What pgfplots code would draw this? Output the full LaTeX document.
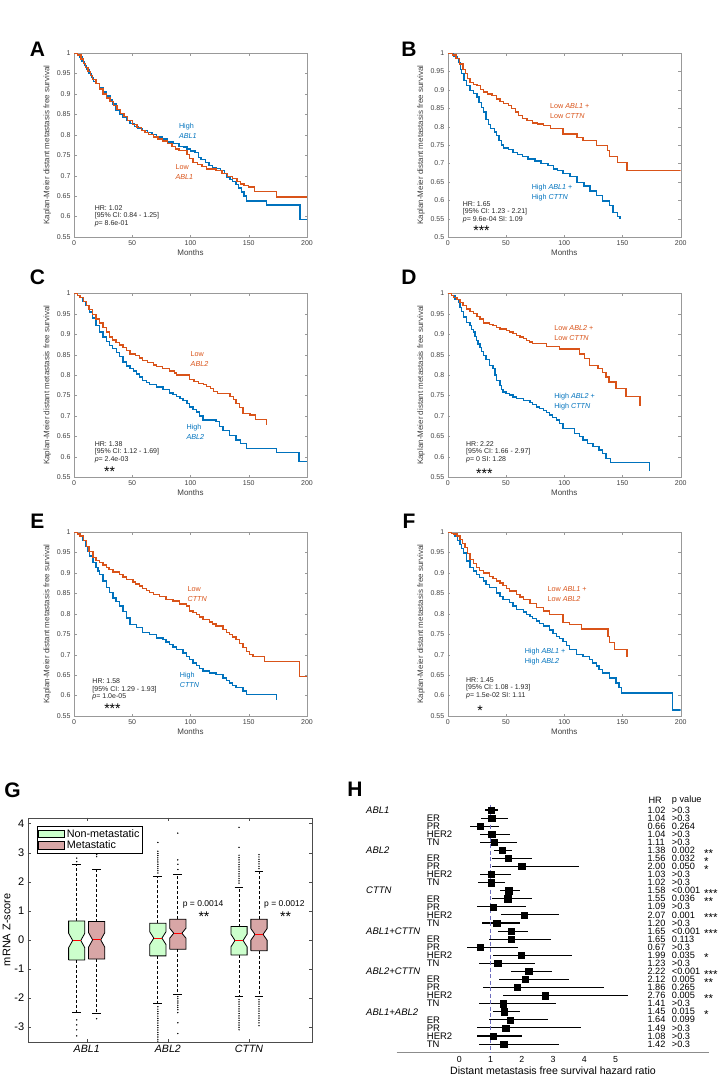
\documentclass[border=0pt]{standalone}
\usepackage{fontspec}
\setmainfont{Liberation Sans}
\usepackage{pgfplots}
\usepackage{pgfplotstable}
\pgfplotsset{compat=1.18}
\definecolor{mblue}{RGB}{0,114,189}
\definecolor{mred}{RGB}{217,83,25}
\definecolor{boxgreen}{RGB}{204,255,204}
\definecolor{boxred}{RGB}{216,166,166}
\definecolor{refline}{RGB}{110,110,190}

\pgfplotsset{
  /pgf/number format/assume math mode=true,
  km/.style={scale only axis, width=233pt, height=184pt, anchor=south west,
    xmin=0, xmax=200, ymin=0.55, ymax=1,
    xtick={0,50,100,150,200}, ytick={0.5,0.55,0.6,0.65,0.7,0.75,0.8,0.85,0.9,0.95,1},
    tick align=inside, major tick length=2.5pt,
    axis line style={black!40}, tick style={black!40},
    ticklabel style={font=\fontsize{7}{8}\selectfont, text=black!75},
    yticklabel style={/pgf/number format/.cd, fixed, precision=2},
    xlabel={Months}, ylabel={Kaplan-Meier distant metastasis free survival},
    label style={font=\fontsize{8}{9}\selectfont, text=black!75},
    xlabel style={yshift=3pt}, ylabel style={yshift=-1pt}},
  hi/.style={mblue, line width=1.35pt, const plot, mark=none},
  lo/.style={mred, line width=1.35pt, const plot, mark=none},
  wh/.style={black, line width=0.9pt, dash pattern=on 3pt off 2pt, forget plot},
  cap/.style={black, line width=0.9pt, forget plot},
  med/.style={red, line width=1.2pt, forget plot},
  out/.style={only marks, mark=*, mark size=0.45pt, black, forget plot},
}
\tikzset{
  lab/.style={anchor=west, align=left, font=\fontsize{7.2}{10}\selectfont, inner sep=0pt},
  stat/.style={anchor=north west, align=left, font=\fontsize{7}{7.5}\selectfont, text=black!85, inner sep=0pt},
  star/.style={font=\fontsize{14}{14}\selectfont, anchor=base, inner sep=0pt, yshift=-8pt},
  letter/.style={font=\fontsize{21}{21}\selectfont\bfseries},
  frow/.style={anchor=west, inner sep=0pt, font=\fontsize{9.2}{9.2}\selectfont},
}

% forest plot: row, hazard ratio, 95% CI
\pgfplotstableread{
row hr lo hi
1 1.02 0.84 1.25
2 1.04 0.71 1.56
3 0.66 0.35 1.27
4 1.04 0.67 1.62
5 1.11 0.67 1.86
6 1.38 1.12 1.69
7 1.56 1.06 2.34
8 2.00 1.06 3.82
9 1.03 0.67 1.65
10 1.02 0.60 1.45
11 1.58 1.29 1.93
12 1.55 1.06 2.34
13 1.09 0.56 2.14
14 2.07 1.35 3.20
15 1.20 0.74 1.96
16 1.65 1.23 2.21
17 1.65 0.96 2.94
18 0.67 0.24 1.88
19 1.99 1.09 3.61
20 1.23 0.64 2.43
21 2.22 1.66 2.97
22 2.12 1.27 3.52
23 1.86 0.76 4.62
24 2.76 1.41 5.41
25 1.41 0.64 3.11
26 1.45 1.08 1.93
27 1.64 0.96 2.85
28 1.49 0.56 3.90
29 1.08 0.58 2.02
30 1.42 0.64 3.20
}\forest

\begin{document}
\begin{tikzpicture}
\useasboundingbox (0,0) rectangle (722pt,-1077pt);

% ---------------- A
\begin{axis}[km, at={(74pt,-237pt)}]
\addplot[hi] coordinates {(0,1) (3,0.995) (5,0.99) (7,0.98) (9,0.97) (10.6,0.96) (13,0.95) (15,0.94) (17,0.93) (19,0.925) (22,0.915) (25,0.905) (28,0.895) (31,0.885) (33,0.875) (36,0.86) (39,0.85) (42,0.842) (45,0.835) (48,0.827) (52,0.82) (55,0.815) (59,0.81) (63,0.805) (67,0.8) (71,0.795) (76,0.79) (80,0.782) (85,0.778) (90,0.772) (94,0.77) (97,0.765) (100,0.76) (104,0.756) (107,0.745) (109,0.74) (113,0.732) (116,0.725) (119,0.72) (122,0.717) (126,0.712) (129,0.705) (131,0.697) (134,0.69) (136,0.685) (139,0.678) (141,0.67) (144,0.66) (146,0.65) (148,0.638) (165,0.628) (194,0.593) (200,0.593)};
\addplot[lo] coordinates {(0,1) (3,0.995) (6,0.985) (8,0.975) (10,0.965) (12,0.955) (14,0.945) (16,0.935) (19,0.925) (22,0.912) (25,0.9) (28,0.89) (31,0.882) (34,0.872) (37,0.862) (40,0.852) (43,0.845) (46,0.835) (50,0.825) (54,0.818) (58,0.81) (61,0.805) (64,0.8) (68,0.795) (72,0.79) (76,0.785) (80,0.778) (84,0.772) (87,0.765) (90,0.762) (97,0.752) (99,0.742) (102,0.732) (106,0.728) (110,0.722) (114,0.716) (122,0.713) (127,0.705) (132,0.698) (136,0.693) (140,0.686) (143,0.68) (146,0.676) (150,0.672) (155,0.662) (174,0.648) (200,0.648)};
\node[lab, text=mblue] at (axis cs:90,0.81) {High\\\textit{ABL1}};
\node[lab, text=mred] at (axis cs:87,0.709) {Low\\\textit{ABL1}};
\node[stat] at (axis cs:17.7,0.628) {HR: 1.02\\{}[95\% CI: 0.84 - 1.25]\\\textit{p}= 8.6e-01};
\end{axis}

% ---------------- B
\begin{axis}[km, ymin=0.5, at={(447.7pt,-237pt)}]
\addplot[hi] coordinates {(0,1) (5,0.99) (8,0.985) (9,0.975) (11,0.955) (12,0.944) (14,0.925) (16,0.912) (19,0.898) (22,0.89) (25,0.88) (27,0.865) (29,0.852) (31,0.84) (33,0.82) (35,0.805) (37,0.795) (40,0.785) (42,0.775) (44,0.762) (46,0.75) (48,0.742) (52,0.737) (56,0.73) (60,0.725) (64,0.718) (69,0.712) (75,0.707) (80,0.7) (86,0.694) (91,0.685) (94,0.68) (99,0.673) (105,0.664) (111,0.648) (117,0.639) (122,0.625) (128,0.612) (133,0.598) (139,0.585) (142,0.566) (146,0.555) (148,0.555) (148,0.548)};
\addplot[lo] coordinates {(0,1) (4,0.995) (7,0.985) (10,0.97) (13,0.955) (15,0.944) (17,0.93) (19,0.92) (22,0.915) (25,0.912) (28,0.9) (31,0.894) (34,0.889) (38,0.885) (42,0.875) (45,0.868) (48,0.862) (52,0.857) (55,0.85) (58,0.84) (61,0.83) (64,0.822) (68,0.816) (73,0.81) (77,0.807) (82,0.803) (88,0.794) (99,0.78) (111,0.771) (116,0.762) (128,0.748) (137,0.735) (139,0.718) (146,0.703) (154,0.68) (200,0.68)};
\node[lab, text=mred] at (axis cs:87.8,0.841) {Low \textit{ABL1} +\\Low \textit{CTTN}};
\node[lab, text=mblue] at (axis cs:72,0.621) {High \textit{ABL1} +\\High \textit{CTTN}};
\node[stat] at (axis cs:12.9,0.598) {HR: 1.65\\{}[95\% CI: 1.23 - 2.21]\\\textit{p}= 9.6e-04 SI: 1.09};
\node[star] at (axis cs:29,0.527) {***};
\end{axis}

% ---------------- C
\begin{axis}[km, at={(74pt,-477.3pt)}]
\addplot[hi] coordinates {(0,1) (3,0.995) (5,0.99) (7.7,0.98) (10,0.97) (13.4,0.954) (16,0.94) (19,0.921) (22,0.905) (25,0.893) (28,0.882) (30.6,0.872) (33,0.865) (36.3,0.856) (39,0.845) (42,0.832) (45,0.822) (48,0.816) (51,0.81) (53.5,0.803) (56,0.795) (59,0.787) (62,0.782) (65,0.777) (70.7,0.771) (76.4,0.764) (82,0.756) (85,0.752) (88,0.747) (91,0.742) (93.6,0.738) (97,0.73) (99.3,0.722) (102,0.716) (105,0.71) (108,0.7) (110.7,0.69) (122,0.686) (125,0.675) (128,0.665) (133.6,0.653) (139,0.641) (143,0.632) (148,0.62) (173.7,0.611) (193,0.588) (200,0.588)};
\addplot[lo] coordinates {(0,1) (3,0.995) (5,0.99) (8,0.98) (10.6,0.97) (13,0.96) (16,0.948) (19,0.937) (22,0.927) (25,0.917) (28,0.905) (30.6,0.893) (33,0.886) (36,0.88) (39,0.874) (42,0.868) (45,0.86) (48,0.852) (53,0.848) (56,0.842) (59,0.836) (63,0.83) (68,0.825) (71,0.821) (76,0.816) (82,0.81) (86,0.805) (88,0.8) (99,0.79) (103,0.785) (107,0.78) (111,0.777) (114,0.772) (117,0.767) (120,0.76) (123,0.755) (134,0.747) (137,0.74) (139,0.73) (142,0.72) (145,0.706) (151,0.702) (156,0.691) (165,0.691) (165,0.678)};
\node[lab, text=mred] at (axis cs:100,0.84) {Low\\\textit{ABL2}};
\node[lab, text=mblue] at (axis cs:96.4,0.661) {High\\\textit{ABL2}};
\node[stat] at (axis cs:17.7,0.639) {HR: 1.38\\{}[95\% CI: 1.12 - 1.69]\\\textit{p}= 2.4e-03};
\node[star] at (axis cs:30.6,0.572) {**};
\end{axis}

% ---------------- D
\begin{axis}[km, at={(447.7pt,-477.3pt)}]
\addplot[hi] coordinates {(0,1) (3,0.995) (6.3,0.985) (9,0.978) (10.5,0.966) (12,0.955) (13.4,0.942) (16,0.929) (19,0.921) (20.5,0.912) (22,0.905) (23.5,0.895) (24.8,0.885) (26,0.876) (27.7,0.868) (29,0.858) (30.5,0.848) (33,0.838) (36,0.824) (39,0.816) (40.5,0.8) (42,0.787) (44.8,0.775) (46,0.765) (47.6,0.759) (50,0.755) (53.3,0.751) (56,0.746) (59,0.742) (64.8,0.738) (70.5,0.733) (73,0.728) (76,0.722) (79,0.718) (82,0.714) (85,0.708) (87.6,0.702) (90,0.697) (93.3,0.69) (96,0.682) (99,0.669) (109,0.657) (113,0.65) (116,0.641) (120,0.633) (124.7,0.625) (130,0.617) (133,0.608) (136,0.596) (140,0.586) (173,0.586) (173,0.565)};
\addplot[lo] coordinates {(0,1) (3,0.995) (5,0.99) (8,0.985) (10.5,0.978) (13,0.97) (16,0.962) (19,0.956) (22,0.95) (25,0.944) (27.7,0.937) (30.5,0.927) (36,0.924) (39,0.921) (42,0.917) (44.8,0.913) (50.5,0.909) (53,0.905) (56,0.901) (59,0.897) (62,0.893) (65,0.889) (67.6,0.885) (70,0.881) (73,0.877) (84.7,0.87) (96,0.864) (113,0.852) (117.5,0.84) (121.8,0.824) (129,0.816) (133,0.807) (136,0.795) (138.4,0.783) (144.6,0.767) (153,0.748) (165,0.748) (165,0.725)};
\node[lab, text=mred] at (axis cs:91.3,0.903) {Low \textit{ABL2} +\\Low \textit{CTTN}};
\node[lab, text=mblue] at (axis cs:91.3,0.734) {High \textit{ABL2} +\\High \textit{CTTN}};
\node[stat] at (axis cs:15.7,0.639) {HR: 2.22\\{}[95\% CI: 1.66 - 2.97]\\\textit{p}= 0 SI: 1.28};
\node[star] at (axis cs:31.4,0.566) {***};
\end{axis}

% ---------------- E
\begin{axis}[km, at={(74pt,-716pt)}]
\addplot[hi] coordinates {(0,1) (3,0.995) (5,0.99) (7.7,0.98) (10,0.965) (12,0.952) (13.4,0.941) (16.3,0.925) (19,0.913) (20.5,0.905) (22,0.896) (25,0.88) (27.7,0.864) (30.5,0.852) (33.5,0.839) (36,0.83) (39,0.819) (42,0.805) (45,0.79) (48,0.774) (53.5,0.766) (59,0.755) (65,0.749) (70.7,0.741) (76.4,0.737) (79,0.731) (82,0.725) (85,0.719) (88,0.713) (93.6,0.704) (96.5,0.696) (99.3,0.688) (102,0.68) (105,0.673) (108,0.666) (110.7,0.66) (116.5,0.655) (122,0.651) (128,0.643) (131,0.637) (133.6,0.631) (136,0.625) (139,0.619) (145,0.611) (148,0.603) (173.7,0.603) (173.7,0.59)};
\addplot[lo] coordinates {(0,1) (3,0.995) (5,0.99) (8,0.98) (10.6,0.964) (13,0.952) (16.3,0.937) (19,0.931) (22,0.925) (25,0.919) (27.7,0.913) (30,0.908) (33.5,0.902) (39,0.896) (42,0.89) (45,0.884) (50.6,0.878) (53,0.873) (56,0.868) (59,0.862) (62,0.857) (65,0.852) (68,0.847) (73.5,0.843) (79,0.835) (85,0.831) (90.7,0.824) (96.4,0.819) (99.3,0.807) (102,0.803) (105,0.798) (108,0.792) (110.7,0.786) (116.5,0.78) (119,0.775) (122,0.77) (128,0.762) (131,0.755) (133.6,0.749) (136,0.743) (139,0.737) (142,0.727) (145,0.717) (148,0.708) (150.8,0.7) (153.6,0.695) (163.7,0.684) (193.7,0.646) (200,0.646)};
\node[lab, text=mred] at (axis cs:97.3,0.849) {Low\\\textit{CTTN}};
\node[lab, text=mblue] at (axis cs:90.7,0.639) {High\\\textit{CTTN}};
\node[stat] at (axis cs:15.7,0.641) {HR: 1.58\\{}[95\% CI: 1.29 - 1.93]\\\textit{p}= 1.0e-05};
\node[star] at (axis cs:33,0.575) {***};
\end{axis}

% ---------------- F
\begin{axis}[km, at={(447.7pt,-716pt)}]
\addplot[hi] coordinates {(0,1) (3,0.997) (6.3,0.99) (8.5,0.98) (10.5,0.97) (12,0.96) (13.4,0.949) (16,0.929) (19,0.913) (22,0.905) (24.8,0.896) (27.5,0.888) (30.5,0.88) (33,0.872) (36,0.864) (42,0.851) (45,0.843) (47.6,0.835) (53.3,0.827) (56,0.819) (59,0.811) (64.8,0.804) (67.5,0.799) (70.5,0.794) (73,0.788) (76,0.782) (79,0.776) (82,0.77) (87.6,0.76) (90.5,0.752) (93.3,0.745) (96,0.739) (99,0.733) (102,0.723) (104.7,0.713) (110.4,0.7) (116,0.696) (121.8,0.688) (124.5,0.68) (127.5,0.672) (130,0.664) (133,0.655) (139,0.643) (144.6,0.631) (147,0.62) (149,0.606) (193,0.565) (200,0.565)};
\addplot[lo] coordinates {(0,1) (3,0.997) (5,0.995) (8,0.99) (10.5,0.982) (12.5,0.972) (14.8,0.962) (17,0.948) (19,0.933) (22,0.923) (24.8,0.913) (27.5,0.906) (30.5,0.9) (36,0.892) (39,0.886) (42,0.88) (45,0.875) (47.6,0.869) (50.5,0.862) (53.3,0.856) (59,0.847) (62,0.841) (64.8,0.835) (70.5,0.825) (76,0.815) (82,0.807) (87.6,0.798) (99,0.778) (104.7,0.774) (114.7,0.763) (137.5,0.745) (139,0.729) (143,0.713) (153.8,0.713) (153.8,0.695)};
\node[lab, text=mred] at (axis cs:85.6,0.8475) {Low \textit{ABL1} +\\Low \textit{ABL2}};
\node[lab, text=mblue] at (axis cs:66,0.695) {High \textit{ABL1} +\\High \textit{ABL2}};
\node[stat] at (axis cs:15.7,0.645) {HR: 1.45\\{}[95\% CI: 1.08 - 1.93]\\\textit{p}= 1.5e-02 SI: 1.11};
\node[star] at (axis cs:27.8,0.571) {*};
\end{axis}

% ---------------- G
\begin{axis}[scale only axis, width=284.6pt, height=224pt, anchor=south west,
  at={(27.7pt,-1041.7pt)},
  xmin=0.273, xmax=3.78, ymin=-3.5, ymax=4.2,
  xtick={1,2,3}, xticklabels={\textit{ABL1},\textit{ABL2},\textit{CTTN}},
  ytick={-3,-2,-1,0,1,2,3,4},
  tick align=inside, major tick length=3pt,
  axis line style={black!70}, tick style={black!70},
  yticklabel style={font=\fontsize{11}{12}\selectfont},
  xticklabel style={font=\fontsize{10.6}{12}\selectfont},
  ylabel={mRNA Z-score}, ylabel style={font=\fontsize{11}{12}\selectfont, yshift=-3pt},
  legend style={at={(0.032,0.963)}, anchor=north west, font=\fontsize{10.8}{11}\selectfont,
    draw=black, inner sep=1pt, row sep=-1.5pt},
  legend cell align=left,
  legend image code/.code={\draw[#1] (0pt,-3.8pt) rectangle (26pt,3.8pt);},
  clip=false]
\addlegendimage{fill=boxgreen, draw=black, line width=0.8pt}
\addlegendentry{Non-metastatic}
\addlegendimage{fill=boxred, draw=black, line width=0.8pt}
\addlegendentry{Metastatic}
% ABL1
\addplot[wh] coordinates {(0.877,0.65) (0.877,2.58)};
\addplot[wh] coordinates {(0.877,-0.69) (0.877,-2.50)};
\addplot[cap] coordinates {(0.822,2.58) (0.932,2.58)};
\addplot[cap] coordinates {(0.822,-2.50) (0.932,-2.50)};
\addplot[fill=boxgreen, draw=black, line width=0.8pt, forget plot] coordinates {(0.777,-0.69) (0.977,-0.69) (0.977,-0.27) (0.927,-0.02) (0.977,0.23) (0.977,0.65) (0.777,0.65) (0.777,0.23) (0.827,-0.02) (0.777,-0.27) (0.777,-0.69)};
\addplot[med] coordinates {(0.827,-0.02) (0.927,-0.02)};
\addplot[out] coordinates {(0.877,2.69) (0.877,2.81) (0.877,-2.75) (0.877,-2.92) (0.877,-3.09) (0.877,-3.30)};
\addplot[wh] coordinates {(1.123,0.63) (1.123,2.43)};
\addplot[wh] coordinates {(1.123,-0.66) (1.123,-2.52)};
\addplot[cap] coordinates {(1.068,2.43) (1.178,2.43)};
\addplot[cap] coordinates {(1.068,-2.52) (1.178,-2.52)};
\addplot[fill=boxred, draw=black, line width=0.8pt, forget plot] coordinates {(1.023,-0.66) (1.223,-0.66) (1.223,-0.25) (1.173,0) (1.223,0.25) (1.223,0.63) (1.023,0.63) (1.023,0.25) (1.073,0) (1.023,-0.25) (1.023,-0.66)};
\addplot[med] coordinates {(1.073,0) (1.173,0)};
\addplot[out] coordinates {(1.123,2.86) (1.123,2.93) (1.123,-2.71)};
% ABL2
\addplot[wh] coordinates {(1.877,0.57) (1.877,2.18)};
\addplot[wh] coordinates {(1.877,-0.55) (1.877,-2.20)};
\addplot[cap] coordinates {(1.822,2.18) (1.932,2.18)};
\addplot[cap] coordinates {(1.822,-2.20) (1.932,-2.20)};
\addplot[fill=boxgreen, draw=black, line width=0.8pt, forget plot] coordinates {(1.777,-0.55) (1.977,-0.55) (1.977,-0.16) (1.927,0.06) (1.977,0.28) (1.977,0.57) (1.777,0.57) (1.777,0.28) (1.827,0.06) (1.777,-0.16) (1.777,-0.55)};
\addplot[med] coordinates {(1.827,0.06) (1.927,0.06)};
\addplot[out] coordinates {(1.877,2.3) (1.877,2.38) (1.877,2.45) (1.877,2.52) (1.877,2.6) (1.877,2.68) (1.877,2.75) (1.877,2.82) (1.877,2.9) (1.877,2.97) (1.877,3.05) (1.877,3.35) (1.877,-2.3) (1.877,-2.38) (1.877,-2.46) (1.877,-2.54) (1.877,-2.62) (1.877,-2.7) (1.877,-2.78) (1.877,-2.86) (1.877,-2.94) (1.877,-3.02) (1.877,-3.1) (1.877,-3.18) (1.877,-3.26) (1.877,-3.34) (1.877,-3.42) (1.877,-3.48)};
\addplot[wh] coordinates {(2.123,0.71) (2.123,2.25)};
\addplot[wh] coordinates {(2.123,-0.32) (2.123,-1.86)};
\addplot[cap] coordinates {(2.068,2.25) (2.178,2.25)};
\addplot[cap] coordinates {(2.068,-1.86) (2.178,-1.86)};
\addplot[fill=boxred, draw=black, line width=0.8pt, forget plot] coordinates {(2.023,-0.32) (2.223,-0.32) (2.223,0.06) (2.173,0.23) (2.223,0.40) (2.223,0.71) (2.023,0.71) (2.023,0.40) (2.073,0.23) (2.023,0.06) (2.023,-0.32)};
\addplot[med] coordinates {(2.073,0.23) (2.173,0.23)};
\addplot[out] coordinates {(2.123,2.42) (2.123,2.6) (2.123,2.75) (2.123,3.67) (2.123,-1.95) (2.123,-2.02) (2.123,-2.1) (2.123,-2.17) (2.123,-2.25) (2.123,-2.32) (2.123,-2.4) (2.123,-2.5) (2.123,-2.85) (2.123,-3.22)};
% CTTN
\addplot[wh] coordinates {(2.877,0.46) (2.877,1.80)};
\addplot[wh] coordinates {(2.877,-0.52) (2.877,-1.95)};
\addplot[cap] coordinates {(2.822,1.80) (2.932,1.80)};
\addplot[cap] coordinates {(2.822,-1.95) (2.932,-1.95)};
\addplot[fill=boxgreen, draw=black, line width=0.8pt, forget plot] coordinates {(2.777,-0.52) (2.977,-0.52) (2.977,-0.24) (2.927,-0.02) (2.977,0.20) (2.977,0.46) (2.777,0.46) (2.777,0.20) (2.827,-0.02) (2.777,-0.24) (2.777,-0.52)};
\addplot[med] coordinates {(2.827,-0.02) (2.927,-0.02)};
\addplot[out] coordinates {(2.877,1.95) (2.877,2.03) (2.877,2.11) (2.877,2.19) (2.877,2.27) (2.877,2.35) (2.877,2.43) (2.877,2.51) (2.877,2.59) (2.877,2.67) (2.877,2.75) (2.877,2.83) (2.877,2.91) (2.877,3.18) (2.877,3.87) (2.877,-2.05) (2.877,-2.13) (2.877,-2.21) (2.877,-2.29) (2.877,-2.37) (2.877,-2.45) (2.877,-2.53) (2.877,-2.61) (2.877,-2.69) (2.877,-2.77) (2.877,-2.85) (2.877,-2.93) (2.877,-3.01) (2.877,-3.09)};
\addplot[wh] coordinates {(3.123,0.71) (3.123,2.35)};
\addplot[wh] coordinates {(3.123,-0.37) (3.123,-1.95)};
\addplot[cap] coordinates {(3.068,2.35) (3.178,2.35)};
\addplot[cap] coordinates {(3.068,-1.95) (3.178,-1.95)};
\addplot[fill=boxred, draw=black, line width=0.8pt, forget plot] coordinates {(3.023,-0.37) (3.223,-0.37) (3.223,-0.01) (3.173,0.19) (3.223,0.39) (3.223,0.71) (3.023,0.71) (3.023,0.39) (3.073,0.19) (3.023,-0.01) (3.023,-0.37)};
\addplot[med] coordinates {(3.073,0.19) (3.173,0.19)};
\addplot[out] coordinates {(3.123,2.45) (3.123,2.53) (3.123,2.61) (3.123,2.69) (3.123,2.77) (3.123,2.85) (3.123,2.93) (3.123,-2.05) (3.123,-2.13) (3.123,-2.21) (3.123,-2.29) (3.123,-2.37) (3.123,-2.45) (3.123,-2.53) (3.123,-2.61) (3.123,-2.69) (3.123,-2.77) (3.123,-2.85) (3.123,-2.95)};
\node[anchor=west, inner sep=0pt, font=\fontsize{8.5}{9}\selectfont] at (axis cs:2.183,1.227) {p = 0.0014};
\node[star] at (axis cs:2.445,0.92) {**};
\node[anchor=west, inner sep=0pt, font=\fontsize{8.5}{9}\selectfont] at (axis cs:3.185,1.227) {p = 0.0012};
\node[star] at (axis cs:3.45,0.92) {**};
\end{axis}

% ---------------- H
\begin{axis}[scale only axis, width=312.6pt, height=250.8pt, anchor=south west,
  at={(396.7pt,-1052.7pt)},
  xmin=-2, xmax=8, ymin=-31.07, ymax=0,
  axis x line*=bottom, axis y line=none,
  x axis line style={black!45, line width=1.5pt},
  xtick={0,1,2,3,4,5}, major tick length=0pt,
  xticklabel style={font=\fontsize{8.8}{9}\selectfont, yshift=0pt},
  xlabel={Distant metastasis free survival hazard ratio},
  xlabel style={font=\fontsize{10.6}{11}\selectfont, yshift=3pt},
  clip=false]
\addplot[only marks, mark=square*, mark size=3.1pt, black,
  error bars/.cd, x dir=both, x explicit, error mark=none,
  error bar style={line width=1.1pt, black}]
  table[x=hr, y expr=-\thisrow{row},
    x error plus expr=\thisrow{hi}-\thisrow{hr},
    x error minus expr=\thisrow{hr}-\thisrow{lo}] {\forest};
\addplot[refline, line width=0.9pt, dash pattern=on 4pt off 2.5pt] coordinates {(1,-0.4) (1,-31.07)};
\end{axis}

% forest plot texts
\node[frow] at (648.3pt,-800pt) {HR};
\node[frow] at (671.7pt,-800pt) {p value};
\foreach \r/\h/\p in {1/1.02/>0.3, 2/1.04/>0.3, 3/0.66/0.264, 4/1.04/>0.3, 5/1.11/>0.3,
  6/1.38/0.002, 7/1.56/0.032, 8/2.00/0.050, 9/1.03/>0.3, 10/1.02/>0.3,
  11/1.58/<0.001, 12/1.55/0.036, 13/1.09/>0.3, 14/2.07/0.001, 15/1.20/>0.3,
  16/1.65/<0.001, 17/1.65/0.113, 18/0.67/>0.3, 19/1.99/0.035, 20/1.23/>0.3,
  21/2.22/<0.001, 22/2.12/0.005, 23/1.86/0.265, 24/2.76/0.005, 25/1.41/>0.3,
  26/1.45/0.015, 27/1.64/0.099, 28/1.49/>0.3, 29/1.08/>0.3, 30/1.42/>0.3}{
  \node[frow] at (647.3pt,{-(801.9+8.07*\r)*1pt}) {\h};
  \node[frow] at (671.7pt,{-(801.9+8.07*\r)*1pt}) {\p};
}
\foreach \r/\s in {6/**, 7/*, 8/*, 11/***, 12/**, 14/***, 16/***, 19/*, 21/***, 22/**, 24/**, 26/*}{
  \node[anchor=base west, inner sep=0pt, font=\fontsize{11.5}{11.5}\selectfont] at (704pt,{-(801.9+8.07*\r+6.7)*1pt}) {\s};
}
\foreach \r/\n in {1/ABL1, 6/ABL2, 11/CTTN, 16/ABL1+CTTN, 21/ABL2+CTTN, 26/ABL1+ABL2}{
  \node[frow, font=\fontsize{9.5}{9.5}\selectfont\itshape] at (366pt,{-(801.9+8.07*\r)*1pt}) {\n};
}
\foreach \g in {0,5,10,15,20,25}{
  \foreach \s/\n in {1/ER, 2/PR, 3/HER2, 4/TN}{
    \node[frow, font=\fontsize{9.5}{9.5}\selectfont] at (426.7pt,{-(801.9+8.07*(\g+1+\s))*1pt}) {\n};
  }
}

% panel letters
\node[letter] at (37.5pt,-49.5pt) {A};
\node[letter] at (409pt,-49.5pt) {B};
\node[letter] at (37.5pt,-277pt) {C};
\node[letter] at (409pt,-277.5pt) {D};
\node[letter] at (37.5pt,-521pt) {E};
\node[letter] at (409pt,-521pt) {F};
\node[letter] at (12.5pt,-790pt) {G};
\node[letter] at (355pt,-789pt) {H};
\end{tikzpicture}
\end{document}
